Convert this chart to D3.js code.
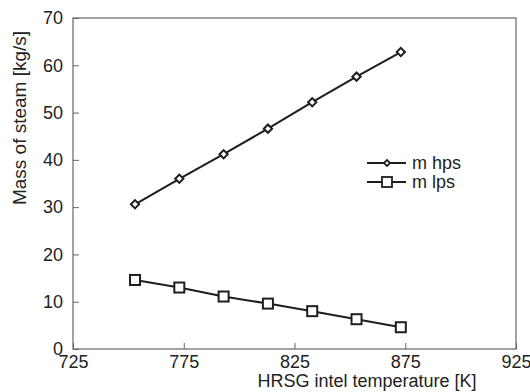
<!DOCTYPE html>
<html>
<head>
<meta charset="utf-8">
<script src="https://cdn.jsdelivr.net/npm/d3@7"></script>
<style>
  body { margin: 0; background: #fff; }
  text { font-family: "Liberation Sans", Arial, sans-serif; }
</style>
</head>
<body>
<svg id="chart" width="530" height="392"></svg>
<script>
// data
var temps = [753, 773, 793, 813, 833, 853, 873];
var hps = [30.6, 36.0, 41.2, 46.6, 52.2, 57.6, 62.8];
var lps = [14.6, 13.0, 11.1, 9.6, 8.0, 6.3, 4.6];
var xTicks = [725, 775, 825, 875, 925];
var yTicks = [0, 10, 20, 30, 40, 50, 60, 70];

var svg = d3.select("#chart"),
    margin = {top: 18, right: 14, bottom: 43, left: 73},
    width = +svg.attr("width") - margin.left - margin.right,
    height = +svg.attr("height") - margin.top - margin.bottom,
    g = svg.append("g").attr("transform", "translate(" + margin.left + "," + margin.top + ")");

var x = d3.scaleLinear().domain([725, 925]).range([0, width]);
var y = d3.scaleLinear().domain([0, 70]).range([height, 0]);

var axisColor = "#666";
var textColor = "#222";

// frame
g.append("rect")
    .attr("width", width).attr("height", height)
    .attr("fill", "none").attr("stroke", axisColor).attr("stroke-width", 1.2);

// x axis (ticks point inward)
var xAxis = d3.axisBottom(x).tickValues(xTicks).tickSizeInner(-6).tickSizeOuter(0).tickFormat(d3.format("d"));
g.append("g")
    .attr("transform", "translate(0," + height + ")")
    .call(customXAxis);

function customXAxis(gg) {
  gg.call(xAxis);
  gg.select(".domain").remove();
  gg.selectAll(".tick line").attr("stroke", axisColor);
  gg.selectAll(".tick text").attr("y", 6).attr("dy", "0.71em")
    .attr("fill", textColor).attr("font-size", 18)
    .attr("font-family", "Liberation Sans, Arial, sans-serif");
}

var yAxis = d3.axisLeft(y).tickValues(yTicks).tickSizeInner(-6).tickSizeOuter(0);
g.append("g").call(customYAxis);

function customYAxis(gg) {
  gg.call(yAxis);
  gg.select(".domain").remove();
  gg.selectAll(".tick line").attr("stroke", axisColor);
  gg.selectAll(".tick text").attr("x", -10).attr("fill", textColor).attr("font-size", 18)
    .attr("font-family", "Liberation Sans, Arial, sans-serif");
}

// axis labels
svg.append("text")
    .attr("x", 367)
    .attr("y", 387)
    .attr("text-anchor", "middle")
    .attr("font-size", 18)
    .attr("fill", textColor)
    .text("HRSG intel temperature [K]");

svg.append("text")
    .attr("transform", "translate(26,118) rotate(-90)")
    .attr("text-anchor", "middle")
    .attr("font-size", 19)
    .attr("fill", textColor)
    .text("Mass of steam [kg/s]");

// lines
var line = d3.line()
    .x(function(d, i) { return x(temps[i]); })
    .y(function(d) { return y(d); });

var lineColor = "#1e1e1e";

g.append("path").datum(hps)
    .attr("fill", "none").attr("stroke", lineColor).attr("stroke-width", 2)
    .attr("d", line);

g.append("path").datum(lps)
    .attr("fill", "none").attr("stroke", lineColor).attr("stroke-width", 2)
    .attr("d", line);

var diamond = d3.symbol().type(d3.symbolSquare).size(34);

g.selectAll(".hps").data(hps).enter().append("path")
    .attr("class", "hps")
    .attr("transform", function(d, i) { return "translate(" + x(temps[i]) + "," + y(d) + ") rotate(45)"; })
    .attr("d", diamond)
    .attr("fill", "#fff").attr("stroke", lineColor).attr("stroke-width", 2);

g.selectAll(".lps").data(lps).enter().append("rect")
    .attr("class", "lps")
    .attr("x", function(d, i) { return x(temps[i]) - 5; })
    .attr("y", function(d) { return y(d) - 5; })
    .attr("width", 10).attr("height", 10)
    .attr("fill", "#fff").attr("stroke", lineColor).attr("stroke-width", 2);

// legend
var legend = svg.append("g").attr("transform", "translate(367,163)");
var items = ["m hps", "m lps"];
items.forEach(function(name, i) {
  var row = legend.append("g").attr("transform", "translate(0," + (i * 19) + ")");
  row.append("line").attr("x1", 0).attr("x2", 39).attr("y1", 0).attr("y2", 0)
      .attr("stroke", lineColor).attr("stroke-width", 2);
  if (i === 0) {
    row.append("path").attr("d", d3.symbol().type(d3.symbolSquare).size(18))
        .attr("transform", "translate(20,0) rotate(45)")
        .attr("fill", "#fff").attr("stroke", lineColor).attr("stroke-width", 1.8);
  } else {
    row.append("rect").attr("x", 15).attr("y", -5).attr("width", 10).attr("height", 10)
        .attr("fill", "#fff").attr("stroke", lineColor).attr("stroke-width", 1.8);
  }
  row.append("text").attr("x", 45).attr("y", 0).attr("dy", "0.35em")
      .attr("font-size", 18).attr("fill", textColor).text(name);
});
</script>
</body>
</html>
